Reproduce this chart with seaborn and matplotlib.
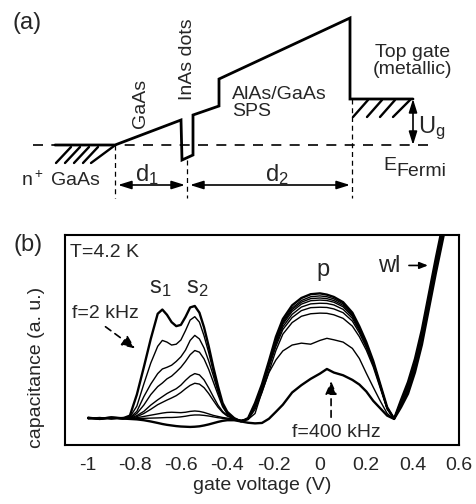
import numpy as np
import pandas as pd
import matplotlib
matplotlib.use("Agg")
import matplotlib.pyplot as plt
import seaborn as sns

# ----- style -----
sns.set_style("white")
plt.rcParams["font.family"] = ["Liberation Sans", "DejaVu Sans"]
plt.rcParams["mathtext.fontset"] = "custom"
plt.rcParams["mathtext.rm"] = "Liberation Sans"
plt.rcParams["mathtext.it"] = "Liberation Sans"
plt.rcParams["axes.unicode_minus"] = False

# ----- panel (b): C-V curves -----
gate_v = [-1.0, -0.95, -0.9, -0.85, -0.82, -0.79, -0.76, -0.73, -0.70, -0.68,
          -0.66, -0.64, -0.62, -0.60, -0.58, -0.56, -0.54, -0.52, -0.50, -0.48,
          -0.46, -0.44, -0.42, -0.40, -0.37, -0.34, -0.31, -0.28, -0.25, -0.22,
          -0.19, -0.16, -0.12, -0.08, -0.04, 0.0, 0.03, 0.06, 0.10, 0.14,
          0.17, 0.20, 0.23, 0.26, 0.29, 0.32, 0.35, 0.38, 0.41, 0.44,
          0.47, 0.50, 0.53, 0.56]

cap_1 = [0.130, 0.124, 0.132, 0.127, 0.140, 0.240, 0.370, 0.505, 0.625, 0.645,
         0.620, 0.585, 0.566, 0.572, 0.610, 0.655, 0.662, 0.630, 0.560, 0.470,
         0.370, 0.280, 0.200, 0.158, 0.128, 0.112, 0.128, 0.200, 0.290, 0.400,
         0.515, 0.600, 0.665, 0.700, 0.718, 0.722, 0.716, 0.705, 0.680, 0.630,
         0.565, 0.490, 0.400, 0.290, 0.180, 0.125, 0.215, 0.300, 0.410, 0.550,
         0.720, 0.890, 1.050, 1.210]
cap_2 = [0.127, 0.131, 0.125, 0.129, 0.133, 0.185, 0.290, 0.390, 0.470, 0.498,
         0.490, 0.476, 0.480, 0.500, 0.545, 0.595, 0.611, 0.585, 0.520, 0.440,
         0.350, 0.265, 0.192, 0.150, 0.125, 0.114, 0.126, 0.195, 0.285, 0.395,
         0.505, 0.590, 0.652, 0.688, 0.706, 0.710, 0.706, 0.696, 0.672, 0.624,
         0.560, 0.485, 0.395, 0.288, 0.178, 0.127, 0.210, 0.293, 0.402, 0.541,
         0.711, 0.881, 1.041, 1.201]
cap_3 = [0.129, 0.126, 0.130, 0.124, 0.130, 0.160, 0.230, 0.290, 0.340, 0.362,
         0.370, 0.380, 0.398, 0.420, 0.452, 0.498, 0.522, 0.505, 0.462, 0.400,
         0.330, 0.255, 0.190, 0.150, 0.126, 0.113, 0.125, 0.192, 0.282, 0.390,
         0.498, 0.582, 0.645, 0.680, 0.697, 0.700, 0.697, 0.688, 0.665, 0.618,
         0.556, 0.482, 0.393, 0.286, 0.177, 0.126, 0.205, 0.286, 0.394, 0.532,
         0.702, 0.872, 1.032, 1.192]
cap_4 = [0.125, 0.130, 0.127, 0.131, 0.128, 0.150, 0.190, 0.240, 0.278, 0.295,
         0.315, 0.328, 0.348, 0.370, 0.398, 0.430, 0.450, 0.442, 0.410, 0.360,
         0.300, 0.240, 0.182, 0.148, 0.127, 0.114, 0.124, 0.188, 0.278, 0.385,
         0.490, 0.575, 0.636, 0.671, 0.687, 0.690, 0.688, 0.680, 0.658, 0.612,
         0.551, 0.478, 0.390, 0.284, 0.176, 0.127, 0.200, 0.279, 0.386, 0.523,
         0.693, 0.863, 1.023, 1.183]
cap_5 = [0.131, 0.125, 0.128, 0.126, 0.127, 0.140, 0.160, 0.190, 0.215, 0.230,
         0.245, 0.257, 0.268, 0.285, 0.308, 0.328, 0.340, 0.334, 0.310, 0.272,
         0.230, 0.190, 0.160, 0.140, 0.125, 0.115, 0.123, 0.185, 0.272, 0.378,
         0.480, 0.563, 0.622, 0.657, 0.672, 0.675, 0.674, 0.667, 0.646, 0.603,
         0.544, 0.472, 0.386, 0.281, 0.175, 0.126, 0.196, 0.272, 0.378, 0.514,
         0.684, 0.854, 1.014, 1.174]
cap_6 = [0.126, 0.129, 0.124, 0.130, 0.126, 0.135, 0.150, 0.170, 0.192, 0.203,
         0.214, 0.224, 0.235, 0.250, 0.268, 0.284, 0.294, 0.290, 0.273, 0.245,
         0.212, 0.180, 0.155, 0.138, 0.125, 0.116, 0.122, 0.180, 0.265, 0.370,
         0.470, 0.550, 0.607, 0.640, 0.654, 0.656, 0.655, 0.648, 0.630, 0.590,
         0.534, 0.465, 0.381, 0.278, 0.174, 0.125, 0.192, 0.265, 0.370, 0.505,
         0.675, 0.845, 1.005, 1.165]
cap_7 = [0.128, 0.124, 0.129, 0.127, 0.125, 0.130, 0.136, 0.142, 0.148, 0.152,
         0.155, 0.156, 0.155, 0.154, 0.156, 0.160, 0.162, 0.160, 0.155, 0.148,
         0.141, 0.136, 0.131, 0.128, 0.124, 0.117, 0.121, 0.170, 0.250, 0.350,
         0.450, 0.528, 0.583, 0.613, 0.625, 0.628, 0.627, 0.620, 0.603, 0.566,
         0.516, 0.452, 0.372, 0.272, 0.170, 0.124, 0.188, 0.258, 0.362, 0.496,
         0.666, 0.836, 0.996, 1.156]
cap_8 = [0.126, 0.130, 0.125, 0.128, 0.127, 0.126, 0.127, 0.128, 0.129, 0.130,
         0.131, 0.131, 0.132, 0.134, 0.137, 0.141, 0.143, 0.143, 0.141, 0.138,
         0.134, 0.130, 0.127, 0.124, 0.121, 0.118, 0.122, 0.150, 0.255, 0.345,
         0.405, 0.448, 0.476, 0.485, 0.480, 0.498, 0.508, 0.501, 0.490, 0.460,
         0.412, 0.342, 0.275, 0.210, 0.150, 0.123, 0.184, 0.251, 0.354, 0.487,
         0.657, 0.827, 0.987, 1.147]
cap_9 = [0.128, 0.125, 0.130, 0.126, 0.124, 0.122, 0.118, 0.112, 0.105, 0.100,
         0.096, 0.093, 0.090, 0.088, 0.087, 0.086, 0.087, 0.089, 0.093, 0.098,
         0.104, 0.110, 0.115, 0.118, 0.118, 0.112, 0.106, 0.103, 0.105, 0.125,
         0.158, 0.192, 0.250, 0.285, 0.315, 0.340, 0.362, 0.345, 0.332, 0.310,
         0.288, 0.255, 0.210, 0.175, 0.140, 0.124, 0.180, 0.244, 0.346, 0.478,
         0.648, 0.818, 0.978, 1.138]

curve_names = ["2 kHz", "c2", "c3", "c4", "c5", "c6", "c7", "c8", "400 kHz"]
curve_vals = [cap_1, cap_2, cap_3, cap_4, cap_5, cap_6, cap_7, cap_8, cap_9]

xtick_vals = [-1.0, -0.8, -0.6, -0.4, -0.2, 0.0, 0.2, 0.4, 0.6]
xtick_labels = ["-1", "-0.8", "-0.6", "-0.4", "-0.2", "0", "0.2", "0.4", "0.6"]

# ----- panel (a): band profile sketch (drawing units = pixels) -----
band_x = [55, 115, 181, 182, 193, 193, 219, 219, 350, 350, 413]
band_e = [145, 145, 120, 160, 155, 115, 106, 79, 18, 99, 99]
fermi_e = 145
hatch_left = [((56, 163), (71, 147)), ((65, 163), (80, 147)), ((74, 163), (89, 147)),
              ((83, 163), (98, 147)), ((91, 163), (114, 146))]
hatch_gate = [((353, 117), (368, 100)), ((367, 117), (382, 100)),
              ((380, 117), (395, 100)), ((393, 117), (410, 100))]

# ----- table for seaborn -----
rows = []
for name, vals in zip(curve_names, curve_vals):
    for v, c in zip(gate_v, vals):
        rows.append((name, v, c))
df = pd.DataFrame(rows, columns=["curve", "V", "C"])

fig = plt.figure(figsize=(4.76, 5.04), dpi=100)

# panel (b)
ax = fig.add_axes([65 / 476, 59 / 504, 394 / 476, 210 / 504])
widths = {n: 1.0 for n in curve_names}
widths["2 kHz"] = 1.7
widths["400 kHz"] = 1.7
sns.lineplot(data=df, x="V", y="C", hue="curve", size="curve", sizes=widths,
             palette={n: "black" for n in curve_names}, estimator=None,
             sort=False, legend=False, ax=ax)
ax.set_xlim(-1.1, 0.6)
ax.set_ylim(0, 1)
ax.set_xticks(xtick_vals)
ax.set_xticklabels(xtick_labels)
ax.set_yticks([])
ax.tick_params(axis="x", direction="in", length=8, width=1.3, pad=9, labelsize=14)
for s in ax.spines.values():
    s.set_linewidth(1.5)
    s.set_color("black")
ax.set_xlabel("gate voltage (V)", fontsize=14, labelpad=2)
ax.set_ylabel("capacitance (a. u.)", fontsize=14)
ax.yaxis.set_label_coords(-0.052, 0.37)

fs = 14
ax.text(-1.078, 0.895, "T=4.2 K", fontsize=fs, ha="left", va="baseline")
ax.text(-0.688, 0.724, r"$\mathregular{s_1}$", fontsize=17, ha="center", va="baseline")
ax.text(-0.528, 0.724, r"$\mathregular{s_2}$", fontsize=17, ha="center", va="baseline")
ax.text(0.013, 0.805, "p", fontsize=17, ha="center", va="baseline")
ax.text(0.299, 0.824, "wl", fontsize=17, ha="center", va="baseline")
ax.annotate("", xy=(0.478, 0.855), xytext=(0.372, 0.855),
            arrowprops=dict(arrowstyle="-|>,head_length=0.5,head_width=0.2", color="black", lw=1.2))
ax.text(-0.926, 0.605, "f=2 kHz", fontsize=fs, ha="center", va="baseline")
ax.annotate("", xy=(-0.788, 0.452), xytext=(-0.935, 0.571),
            arrowprops=dict(arrowstyle="-|>,head_length=0.8,head_width=0.35", color="black",
                            lw=1.2, linestyle=(0, (4, 3))))
ax.text(0.069, 0.038, "f=400 kHz", fontsize=fs, ha="center", va="baseline")
ax.annotate("", xy=(0.048, 0.318), xytext=(0.048, 0.119),
            arrowprops=dict(arrowstyle="-|>,head_length=0.8,head_width=0.35", color="black",
                            lw=1.2, linestyle=(0, (4, 3))))

# panel (a)
axa = fig.add_axes([0, 1 - 205 / 504, 1, 205 / 504])
axa.set_xlim(0, 476)
axa.set_ylim(205, 0)
axa.axis("off")
axa.plot([33, 428], [fermi_e, fermi_e], color="black", lw=1.2, linestyle=(0, (6, 5)))
axa.plot(band_x, band_e, color="black", lw=2.0, solid_joinstyle="miter")
for (p0, p1) in hatch_left + hatch_gate:
    axa.plot([p0[0], p1[0]], [p0[1], p1[1]], color="black", lw=1.7)
for xv, y0 in [(115, 145), (187, 160), (352, 99)]:
    axa.plot([xv, xv], [y0, 198], color="black", lw=0.9, linestyle=(0, (4, 3)))
arr = dict(arrowstyle="<|-|>,head_length=0.8,head_width=0.25", color="black", lw=1.2,
           shrinkA=0, shrinkB=0)
axa.annotate("", xy=(185, 185), xytext=(118, 185), arrowprops=arr)
axa.annotate("", xy=(350, 185), xytext=(190, 185), arrowprops=arr)
axa.annotate("", xy=(413, 145), xytext=(413, 99), arrowprops=arr)

axa.text(27, 23, "(a)", fontsize=17, ha="center", va="center")
axa.text(187, 59, "InAs dots", fontsize=fs, rotation=90, ha="center", va="center")
axa.text(140, 103, "GaAs", fontsize=fs, rotation=90, ha="center", va="center")
axa.text(232, 103, "AlAs/GaAs\nSPS", fontsize=fs, ha="left", va="center", linespacing=1.0)
axa.text(413, 61, "Top gate\n(metallic)", fontsize=fs, ha="center", va="center", linespacing=1.0)
axa.text(418, 128, r"$\mathregular{U_g}$", fontsize=17, ha="left", va="center")
axa.text(383, 165, "E", fontsize=14, ha="left", va="center")
axa.text(396, 171, "Fermi", fontsize=14, ha="left", va="center")
axa.text(61, 180, r"$\mathregular{n^+}$ GaAs", fontsize=fs, ha="center", va="center")
axa.text(147, 175, r"$\mathregular{d_1}$", fontsize=17, ha="center", va="center")
axa.text(277, 175, r"$\mathregular{d_2}$", fontsize=17, ha="center", va="center")

fig.text(28 / 476, 1 - 245 / 504, "(b)", fontsize=17, ha="center", va="center")

fig.savefig("out.png", dpi=100)
